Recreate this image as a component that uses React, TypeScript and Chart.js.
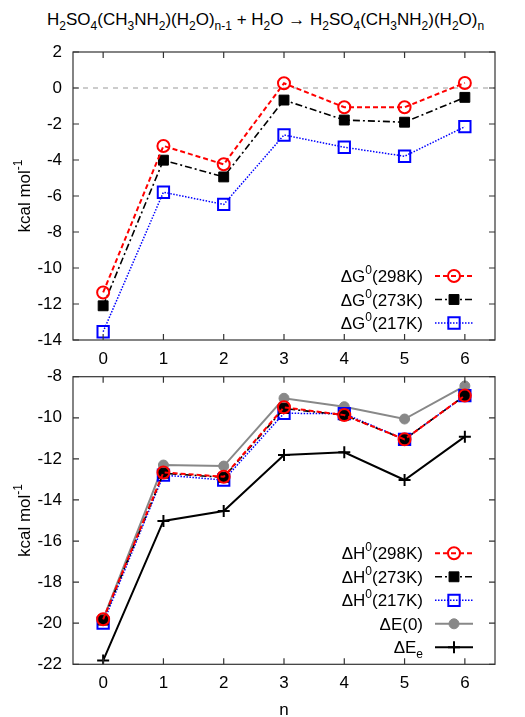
import React, { useEffect, useRef } from 'react';
import { Chart, registerables } from 'chart.js';

Chart.register(...registerables);

// ---------- data ----------
const nValues = [0, 1, 2, 3, 4, 5, 6];
const xTicks = [0, 1, 2, 3, 4, 5, 6];
const topYTicks = [2, 0, -2, -4, -6, -8, -10, -12, -14];
const bottomYTicks = [-8, -10, -12, -14, -16, -18, -20, -22];

const dG298 = [-11.36, -3.22, -4.24, 0.26, -1.07, -1.07, 0.28];
const dG273 = [-12.1, -4.01, -4.94, -0.67, -1.78, -1.9, -0.52];
const dG217 = [-13.54, -5.79, -6.47, -2.61, -3.29, -3.79, -2.15];

const dH298 = [-19.81, -12.66, -12.87, -9.49, -9.87, -11.05, -8.92];
const dH273 = [-19.85, -12.7, -12.9, -9.55, -9.87, -11.05, -8.92];
const dH217 = [-20.0, -12.79, -13.03, -9.78, -9.8, -11.05, -8.92];
const dE0 = [-19.8, -12.3, -12.35, -9.05, -9.46, -10.06, -8.45];
const dEe = [-21.82, -15.02, -14.54, -11.81, -11.68, -13.03, -10.92];

type Part = { t: string; sup?: boolean; sub?: boolean };
const labG298: Part[] = [{ t: 'ΔG' }, { t: '0', sup: true }, { t: '(298K)' }];
const labG273: Part[] = [{ t: 'ΔG' }, { t: '0', sup: true }, { t: '(273K)' }];
const labG217: Part[] = [{ t: 'ΔG' }, { t: '0', sup: true }, { t: '(217K)' }];
const labH298: Part[] = [{ t: 'ΔH' }, { t: '0', sup: true }, { t: '(298K)' }];
const labH273: Part[] = [{ t: 'ΔH' }, { t: '0', sup: true }, { t: '(273K)' }];
const labH217: Part[] = [{ t: 'ΔH' }, { t: '0', sup: true }, { t: '(217K)' }];
const labE0: Part[] = [{ t: 'ΔE(0)' }];
const labEe: Part[] = [{ t: 'ΔE' }, { t: 'e', sub: true }];
const yTitle: Part[] = [{ t: 'kcal mol' }, { t: '-1', sup: true }];

// ---------- styles ----------
const FONT = '"Liberation Sans", Arial, Helvetica, sans-serif';
const FS = 17;

type Sty = {
  color: string; dash: number[]; lw: number; ps: string; r: number; fill: string; bw: number;
};
const sRed: Sty = { color: '#ff0000', dash: [5, 3], lw: 2, ps: 'circle', r: 6, fill: 'rgba(0,0,0,0)', bw: 2 };
const sBlack: Sty = { color: '#000000', dash: [7, 3, 2, 3], lw: 1.6, ps: 'rect', r: 7, fill: '#000000', bw: 1 };
const sBlue: Sty = { color: '#0000ff', dash: [1.5, 1.5], lw: 1.5, ps: 'rect', r: 8, fill: 'rgba(0,0,0,0)', bw: 2 };
const sGray: Sty = { color: '#888888', dash: [], lw: 2, ps: 'circle', r: 5, fill: '#888888', bw: 1 };
const sPlus: Sty = { color: '#000000', dash: [], lw: 2, ps: 'cross', r: 6, fill: '#000000', bw: 2 };

function mkDataset(values: number[], s: Sty, label: Part[]) {
  return {
    label: label.map((p) => p.t).join(''),
    data: nValues.map((n, i) => ({ x: n, y: values[i] })),
    borderColor: s.color,
    borderDash: s.dash,
    borderWidth: s.lw,
    pointStyle: s.ps,
    pointRadius: s.r,
    pointBackgroundColor: s.fill,
    pointBorderColor: s.color,
    pointBorderWidth: s.bw,
    pointHoverRadius: s.r,
    tension: 0,
    fill: false,
    legendParts: label,
    sty: s,
  } as any;
}

function font(size: number) {
  return `${size}px ${FONT}`;
}

function partsWidth(ctx: CanvasRenderingContext2D, parts: Part[]) {
  let w = 0;
  for (const p of parts) {
    ctx.font = font(p.sup || p.sub ? 12 : FS);
    w += ctx.measureText(p.t).width;
  }
  return w;
}

function drawParts(ctx: CanvasRenderingContext2D, parts: Part[], x: number, baseline: number) {
  let cx = x;
  for (const p of parts) {
    ctx.font = font(p.sup || p.sub ? 12 : FS);
    const dy = p.sup ? -8 : p.sub ? 5 : 0;
    ctx.fillText(p.t, cx, baseline + dy);
    cx += ctx.measureText(p.t).width;
  }
}

function drawMarker(ctx: CanvasRenderingContext2D, s: Sty, x: number, y: number) {
  ctx.save();
  ctx.setLineDash([]);
  ctx.lineWidth = s.bw;
  ctx.strokeStyle = s.color;
  ctx.fillStyle = s.fill;
  ctx.beginPath();
  if (s.ps === 'circle') {
    ctx.arc(x, y, s.r, 0, Math.PI * 2);
    ctx.fill();
    ctx.stroke();
  } else if (s.ps === 'rect') {
    const h = s.r * Math.SQRT1_2;
    ctx.rect(x - h, y - h, 2 * h, 2 * h);
    ctx.fill();
    ctx.stroke();
  } else if (s.ps === 'cross') {
    ctx.moveTo(x - s.r, y);
    ctx.lineTo(x + s.r, y);
    ctx.moveTo(x, y - s.r);
    ctx.lineTo(x, y + s.r);
    ctx.stroke();
  }
  ctx.restore();
}

const framePlugin = {
  id: 'gnuFrame',
  afterDraw(chart: any) {
    const ctx: CanvasRenderingContext2D = chart.ctx;
    const a = chart.chartArea;
    const xs = chart.scales.x;
    const ys = chart.scales.y;
    const opts = chart.options.plugins.gnuFrame || {};
    ctx.save();
    // frame
    ctx.strokeStyle = '#333333';
    ctx.lineWidth = 1.2;
    ctx.setLineDash([]);
    ctx.strokeRect(a.left, a.top, a.right - a.left, a.bottom - a.top);
    // inward ticks
    const tl = 6;
    ctx.beginPath();
    for (const v of xTicks) {
      const px = xs.getPixelForValue(v);
      ctx.moveTo(px, a.bottom);
      ctx.lineTo(px, a.bottom - tl);
      ctx.moveTo(px, a.top);
      ctx.lineTo(px, a.top + tl);
    }
    for (const t of ys.ticks) {
      const py = ys.getPixelForValue(t.value);
      ctx.moveTo(a.left, py);
      ctx.lineTo(a.left + tl, py);
      ctx.moveTo(a.right, py);
      ctx.lineTo(a.right - tl, py);
    }
    ctx.stroke();

    // y title
    ctx.fillStyle = '#000';
    ctx.textBaseline = 'alphabetic';
    ctx.textAlign = 'left';
    const w = partsWidth(ctx, yTitle);
    ctx.save();
    ctx.translate(30, (a.top + a.bottom) / 2);
    ctx.rotate(-Math.PI / 2);
    drawParts(ctx, yTitle, -w / 2, 0);
    ctx.restore();

    // x title
    if (opts.xTitle) {
      ctx.font = font(FS);
      ctx.textAlign = 'center';
      ctx.fillText(opts.xTitle, (a.left + a.right) / 2, a.bottom + 51);
      ctx.textAlign = 'left';
    }

    // legend
    const ds = chart.data.datasets;
    const n = ds.length;
    const rowH = 23.5;
    for (let i = 0; i < n; i++) {
      const d = ds[i];
      const y = a.bottom - 17 - (n - 1 - i) * rowH;
      const parts: Part[] = d.legendParts;
      const tw = partsWidth(ctx, parts);
      const textRight = a.right - 72;
      ctx.fillStyle = '#000';
      drawParts(ctx, parts, textRight - tw, y + 6);
      const s: Sty = d.sty;
      const x0 = a.right - 60;
      const x1 = a.right - 22;
      ctx.save();
      ctx.strokeStyle = s.color;
      ctx.lineWidth = s.lw;
      ctx.setLineDash(s.dash);
      ctx.beginPath();
      ctx.moveTo(x0, y);
      ctx.lineTo(x1, y);
      ctx.stroke();
      ctx.restore();
      drawMarker(ctx, s, (x0 + x1) / 2, y);
    }
    ctx.restore();
  },
  beforeDatasetsDraw(chart: any) {
    const opts = chart.options.plugins.gnuFrame || {};
    if (!opts.zeroLine) return;
    const ctx: CanvasRenderingContext2D = chart.ctx;
    const a = chart.chartArea;
    const py = chart.scales.y.getPixelForValue(0);
    ctx.save();
    ctx.strokeStyle = '#999999';
    ctx.lineWidth = 1;
    ctx.setLineDash([5, 5]);
    ctx.beginPath();
    ctx.moveTo(a.left, py);
    ctx.lineTo(a.right, py);
    ctx.stroke();
    ctx.restore();
  },
};

function makeConfig(datasets: any[], yMin: number, yMax: number, yTicks: number[], padTop: number, xHeight: number, extra: any) {
  return {
    type: 'line',
    data: { datasets },
    options: {
      responsive: false,
      maintainAspectRatio: false,
      animation: false,
      devicePixelRatio: 1,
      layout: { padding: { top: padTop, right: 30, left: 0, bottom: 0 } },
      plugins: {
        legend: { display: false },
        tooltip: { enabled: false },
        title: { display: false },
        gnuFrame: extra,
      },
      scales: {
        x: {
          type: 'linear',
          min: -0.5,
          max: 6.5,
          afterBuildTicks: (scale: any) => {
            scale.ticks = xTicks.map((v) => ({ value: v }));
          },
          afterFit: (scale: any) => {
            scale.height = xHeight;
            scale.paddingLeft = 0;
            scale.paddingRight = 0;
          },
          grid: { display: false, drawTicks: false },
          border: { display: false },
          ticks: {
            color: '#000',
            font: { family: FONT, size: FS },
            padding: 9,
            maxRotation: 0,
            autoSkip: false,
          },
        },
        y: {
          type: 'linear',
          min: yMin,
          max: yMax,
          afterBuildTicks: (scale: any) => {
            scale.ticks = yTicks.map((v) => ({ value: v }));
          },
          afterFit: (scale: any) => {
            scale.width = 73;
            scale.paddingTop = 0;
            scale.paddingBottom = 0;
          },
          grid: { display: false, drawTicks: false },
          border: { display: false },
          ticks: {
            color: '#000',
            font: { family: FONT, size: FS },
            padding: 11,
            autoSkip: false,
          },
        },
      },
    },
    plugins: [framePlugin],
  } as any;
}

function ChartCanvas({ config, top, height }: { config: any; top: number; height: number }) {
  const ref = useRef<HTMLCanvasElement>(null);
  useEffect(() => {
    const chart = new Chart(ref.current as HTMLCanvasElement, config);
    return () => chart.destroy();
  }, []);
  return (
    <canvas
      ref={ref}
      width={525}
      height={height}
      style={{ position: 'absolute', left: 0, top, width: 525, height, display: 'block' }}
    />
  );
}

export default function App() {
  const topConfig = makeConfig(
    [mkDataset(dG298, sRed, labG298), mkDataset(dG273, sBlack, labG273), mkDataset(dG217, sBlue, labG217)],
    -14, 2, topYTicks, 12, 30, { zeroLine: true }
  );
  const bottomConfig = makeConfig(
    [
      mkDataset(dH298, sRed, labH298),
      mkDataset(dH273, sBlack, labH273),
      mkDataset(dH217, sBlue, labH217),
      mkDataset(dE0, sGray, labE0),
      mkDataset(dEe, sPlus, labEe),
    ],
    -22, -8, bottomYTicks, 11.7, 52.7, { xTitle: 'n' }
  );
  const subStyle: React.CSSProperties = { fontSize: 12, verticalAlign: -5, lineHeight: 0 };
  return (
    <div style={{ position: 'absolute', left: 0, top: 0, width: 525, height: 717, background: '#fff', overflow: 'hidden' }}>
      <div
        style={{
          position: 'absolute',
          left: 47,
          top: 10,
          fontFamily: FONT,
          fontSize: 17,
          lineHeight: '20px',
          whiteSpace: 'nowrap',
          color: '#000',
        }}
      >
        H<span style={subStyle}>2</span>SO<span style={subStyle}>4</span>(CH<span style={subStyle}>3</span>NH
        <span style={subStyle}>2</span>)(H<span style={subStyle}>2</span>O)<span style={subStyle}>n-1</span> + H
        <span style={subStyle}>2</span>O → H<span style={subStyle}>2</span>SO<span style={subStyle}>4</span>(CH
        <span style={subStyle}>3</span>NH<span style={subStyle}>2</span>)(H<span style={subStyle}>2</span>O)
        <span style={subStyle}>n</span>
      </div>
      <ChartCanvas config={topConfig} top={40} height={330} />
      <ChartCanvas config={bottomConfig} top={365} height={352} />
    </div>
  );
}
